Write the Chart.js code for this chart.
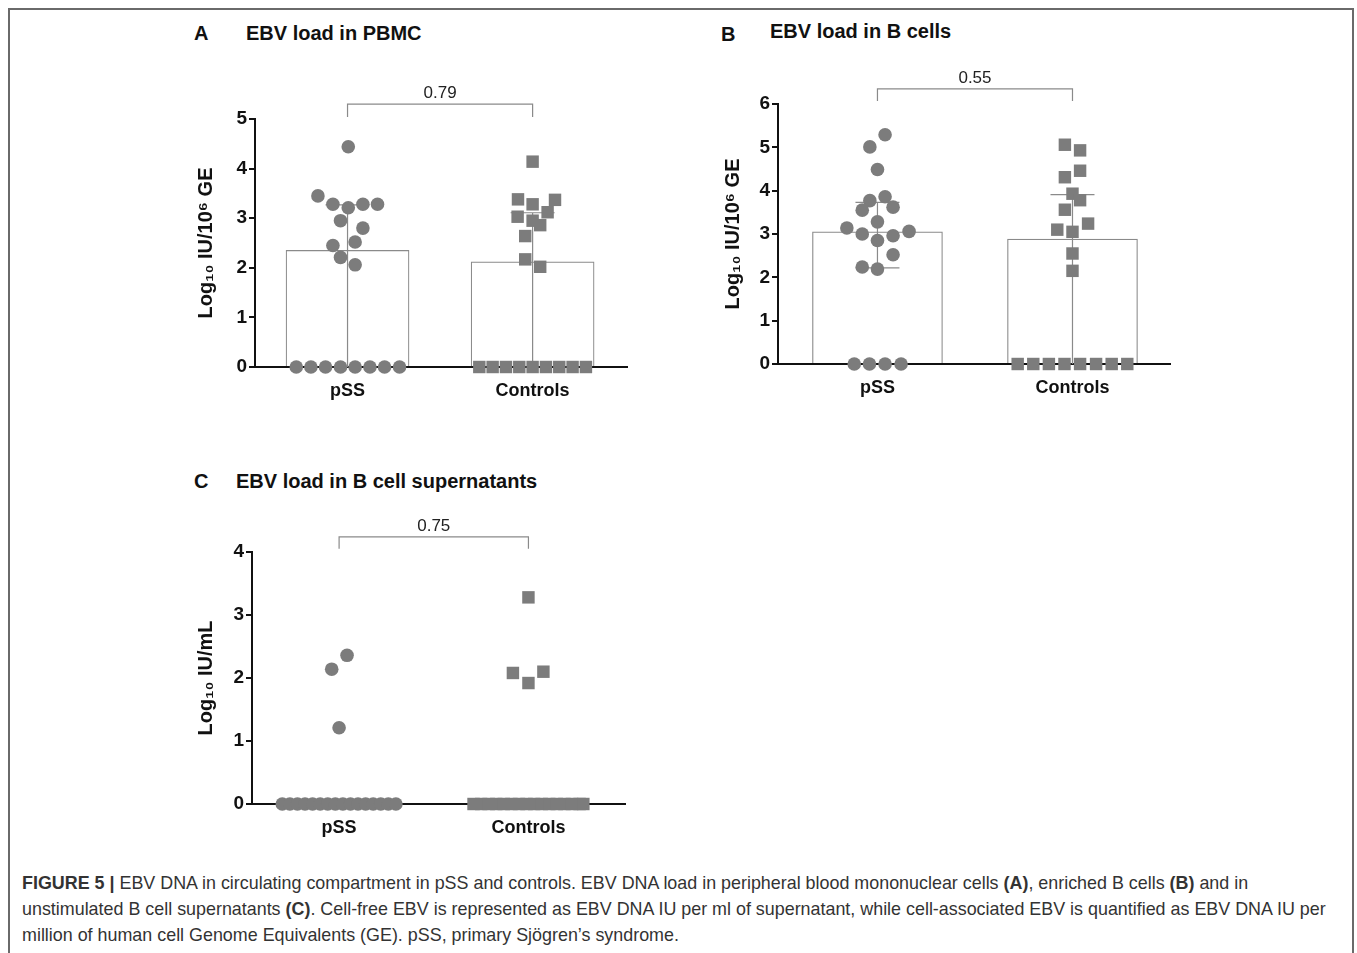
<!DOCTYPE html>
<html>
<head>
<meta charset="utf-8">
<script src="https://cdn.jsdelivr.net/npm/chart.js@4.4.1/dist/chart.umd.min.js"></script>
<style>
  body { margin: 0; background: #fff; font-family: "Liberation Sans", Arial, sans-serif; }
  .page { position: relative; width: 1357px; height: 953px; overflow: hidden; }
  .frame { position: absolute; left: 8px; top: 8px; width: 1346px; height: 960px;
           border: 2px solid #6a6a6a; border-bottom: none; box-sizing: border-box; }
  .panel { position: absolute; }
  .ptitle { position: absolute; font-weight: bold; font-size: 20px; color: #111; white-space: nowrap; }
  .caption { position: absolute; left: 22px; top: 870px; font-size: 17.9px; line-height: 26px; color: #333; white-space: nowrap; }
</style>
</head>
<body>
<div class="page">
  <div class="frame"></div>

  <div class="ptitle" style="left:194px;top:22px;">A</div>
  <div class="ptitle" style="left:246px;top:22px;">EBV load in PBMC</div>
  <div class="ptitle" style="left:721px;top:23px;">B</div>
  <div class="ptitle" style="left:770px;top:20px;">EBV load in B cells</div>
  <div class="ptitle" style="left:194px;top:470px;">C</div>
  <div class="ptitle" style="left:236px;top:470px;">EBV load in B cell supernatants</div>

  <canvas id="chartA" class="panel" style="left:190px;top:80px;" width="450" height="330"></canvas>
  <canvas id="chartB" class="panel" style="left:716px;top:70px;" width="480" height="340"></canvas>
  <canvas id="chartC" class="panel" style="left:190px;top:510px;" width="450" height="340"></canvas>

  <div class="caption"><b>FIGURE 5 |</b> EBV DNA in circulating compartment in pSS and controls. EBV DNA load in peripheral blood mononuclear cells <b>(A)</b>, enriched B cells <b>(B)</b> and in<br>unstimulated B cell supernatants <b>(C)</b>. Cell-free EBV is represented as EBV DNA IU per ml of supernatant, while cell-associated EBV is quantified as EBV DNA IU per<br>million of human cell Genome Equivalents (GE). pSS, primary Sjögren’s syndrome.</div>
</div>

<script>
const GROUPS = ['pSS', 'Controls'];
const POINT_COLOR = '#7c7c7c';

// ---- Panel A: PBMC (x = jitter offset from group centre, y = log10 value)
const A_pss_x = [0.004, -0.160, -0.079, 0.004, 0.083, 0.162, -0.038, 0.083, -0.079, 0.041, -0.038, 0.041,
                 -0.277, -0.198, -0.119, -0.038, 0.041, 0.121, 0.200, 0.281];
const A_pss_y = [4.44, 3.45, 3.28, 3.21, 3.28, 3.28, 2.95, 2.80, 2.45, 2.52, 2.21, 2.06,
                 0, 0, 0, 0, 0, 0, 0, 0];
const A_ctl_x = [0, -0.079, 0, 0.121, 0.081, -0.081, 0, 0.041, -0.040, -0.040, 0.041,
                 -0.288, -0.216, -0.144, -0.072, 0, 0.072, 0.144, 0.216, 0.288];
const A_ctl_y = [4.14, 3.38, 3.28, 3.37, 3.12, 3.03, 2.95, 2.86, 2.64, 2.17, 2.02,
                 0, 0, 0, 0, 0, 0, 0, 0, 0];
const A_mean = [2.35, 2.12];
const A_errHigh = [3.27, 3.11];
const A_errLow = [null, null];   // whisker runs below the axis
const A_bracket = [5.30, 5.04];
const A_p = '0.79';

// ---- Panel B: B cells
const B_pss_x = [0.039, -0.039, 0, -0.039, 0.039, -0.078, 0.080, 0, -0.157, -0.078, 0.080, 0.162, 0,
                 0.080, -0.078, 0, -0.119, -0.041, 0.039, 0.121];
const B_pss_y = [5.29, 5.01, 4.49, 3.77, 3.86, 3.55, 3.62, 3.28, 3.14, 3.00, 2.96, 3.06, 2.85,
                 2.52, 2.24, 2.19, 0, 0, 0, 0];
const B_ctl_x = [-0.039, 0.039, 0.039, -0.039, 0, 0.039, -0.039, 0.080, -0.078, 0, 0, 0,
                 -0.281, -0.201, -0.121, -0.041, 0.039, 0.121, 0.201, 0.281];
const B_ctl_y = [5.06, 4.93, 4.46, 4.31, 3.93, 3.78, 3.56, 3.24, 3.10, 3.05, 2.55, 2.15,
                 0, 0, 0, 0, 0, 0, 0, 0];
const B_mean = [3.05, 2.88];
const B_errHigh = [3.73, 3.91];
const B_errLow = [2.22, null];
const B_bracket = [6.35, 6.07];
const B_p = '0.55';

// ---- Panel C: supernatants
const C_pss_x = [-0.039, 0.042, 0,
                 -0.30, -0.26, -0.22, -0.18, -0.14, -0.10, -0.06, -0.02, 0.02, 0.06, 0.10, 0.14, 0.18, 0.22, 0.26, 0.30];
const C_pss_y = [2.14, 2.36, 1.21,
                 0, 0, 0, 0, 0, 0, 0, 0, 0, 0, 0, 0, 0, 0, 0, 0];
const C_ctl_x = [0, -0.082, 0.079, 0,
                 -0.29, -0.25, -0.21, -0.17, -0.13, -0.09, -0.05, -0.01, 0.03, 0.07, 0.11, 0.15, 0.19, 0.23, 0.27, 0.29];
const C_ctl_y = [3.28, 2.08, 2.10, 1.92,
                 0, 0, 0, 0, 0, 0, 0, 0, 0, 0, 0, 0, 0, 0, 0, 0];
const C_bracket = [4.24, 4.05];
const C_p = '0.75';

const toXY = (xs, ys, centre) => xs.map((x, i) => ({ x: centre + x, y: ys[i] }));

// error bars drawn right after the bar dataset, so points sit on top
const errorBars = {
  id: 'errorBars',
  afterDatasetDraw(chart, args) {
    const cfg = chart.options.plugins.errorBars;
    if (!cfg || !cfg.high || args.meta.type !== 'bar') return;
    const { ctx, scales: { x, y }, chartArea } = chart;
    ctx.save();
    ctx.strokeStyle = '#8a8a8a';
    ctx.lineWidth = 1.2;
    cfg.high.forEach((hi, i) => {
      const px = x.getPixelForValue(i);
      const top = y.getPixelForValue(hi);
      const lo = cfg.low[i];
      const bot = lo == null ? chartArea.bottom : y.getPixelForValue(lo);
      ctx.beginPath();
      ctx.moveTo(px, top); ctx.lineTo(px, bot);
      ctx.moveTo(px - cfg.cap, top); ctx.lineTo(px + cfg.cap, top);
      if (lo != null) { ctx.moveTo(px - cfg.cap, bot); ctx.lineTo(px + cfg.cap, bot); }
      ctx.stroke();
    });
    ctx.restore();
  }
};

const bracket = {
  id: 'bracket',
  afterDraw(chart) {
    const cfg = chart.options.plugins.bracket;
    const { ctx, scales: { x, y } } = chart;
    const x0 = x.getPixelForValue(0), x1 = x.getPixelForValue(1);
    const yt = y.getPixelForValue(cfg.y[0]), yb = y.getPixelForValue(cfg.y[1]);
    ctx.save();
    ctx.strokeStyle = '#8a8a8a';
    ctx.lineWidth = 1.2;
    ctx.beginPath();
    ctx.moveTo(x0, yb); ctx.lineTo(x0, yt); ctx.lineTo(x1, yt); ctx.lineTo(x1, yb);
    ctx.stroke();
    ctx.fillStyle = '#222';
    ctx.font = '17px "Liberation Sans", Arial, sans-serif';
    ctx.textAlign = 'center';
    ctx.textBaseline = 'bottom';
    ctx.fillText(cfg.label, (x0 + x1) / 2, yt - 2);
    ctx.restore();
  }
};

function makeChart(id, o) {
  const datasets = [];
  if (o.mean) {
    datasets.push({
      type: 'bar',
      data: o.mean.map((m, i) => ({ x: i, y: m })),
      backgroundColor: '#fff',
      borderColor: '#8a8a8a',
      borderWidth: 1.2,
      barThickness: o.barW,
      order: 2,
    });
  }
  datasets.push({
    type: 'scatter', data: toXY(o.pss[0], o.pss[1], 0),
    pointStyle: 'circle', pointRadius: 6.8, backgroundColor: POINT_COLOR, borderWidth: 0,
    clip: false, order: 1,
  });
  datasets.push({
    type: 'scatter', data: toXY(o.ctl[0], o.ctl[1], 1),
    pointStyle: 'rect', pointRadius: 8.8, backgroundColor: POINT_COLOR, borderWidth: 0,
    clip: false, order: 1,
  });

  return new Chart(document.getElementById(id), {
    data: { datasets },
    plugins: [errorBars, bracket],
    options: {
      responsive: false,
      animation: false,
      layout: { padding: { left: o.padL, top: o.padT, right: o.padR, bottom: 0 } },
      plugins: {
        legend: { display: false },
        tooltip: { enabled: false },
        errorBars: { high: o.errHigh, low: o.errLow, cap: 22 },
        bracket: { y: o.bracket, label: o.p },
      },
      scales: {
        x: {
          type: 'linear', min: o.xMin, max: o.xMax, offset: false,
          afterBuildTicks: (s) => { s.ticks = GROUPS.map((_, i) => ({ value: i })); },
          afterFit: (s) => { s.height = o.xH; },
          grid: { display: false },
          border: { color: '#111', width: 2 },
          ticks: {
            callback: (v) => GROUPS[v] ?? '',
            color: '#111', padding: 5,
            font: { family: '"Liberation Sans", Arial', size: 18, weight: 'bold' },
          },
        },
        y: {
          min: 0, max: o.yMax,
          afterFit: (s) => { s.width = o.yW; },
          grid: { drawOnChartArea: false, color: '#111', tickLength: 6, lineWidth: 2 },
          border: { color: '#111', width: 2 },
          ticks: {
            stepSize: 1, color: '#111', padding: 2,
            font: { family: '"Liberation Sans", Arial', size: 19, weight: 'bold' },
          },
          title: {
            display: true, text: o.yTitle, color: '#111', padding: 0,
            font: { family: '"Liberation Sans", Arial', size: 20, weight: 'bold' },
          },
        },
      },
    },
  });
}

makeChart('chartA', {
  pss: [A_pss_x, A_pss_y], ctl: [A_ctl_x, A_ctl_y],
  mean: A_mean, errHigh: A_errHigh, errLow: A_errLow, bracket: A_bracket, p: A_p,
  yMax: 5, xMin: -0.50, xMax: 1.51, barW: 123,
  padL: 4, padT: 39, padR: 13, yW: 61, xH: 43, yTitle: 'Log₁₀ IU/10⁶ GE',
});
makeChart('chartB', {
  pss: [B_pss_x, B_pss_y], ctl: [B_ctl_x, B_ctl_y],
  mean: B_mean, errHigh: B_errHigh, errLow: B_errLow, bracket: B_bracket, p: B_p,
  yMax: 6, xMin: -0.51, xMax: 1.50, barW: 130,
  padL: 5, padT: 34, padR: 26, yW: 57, xH: 46, yTitle: 'Log₁₀ IU/10⁶ GE',
});
makeChart('chartC', {
  pss: [C_pss_x, C_pss_y], ctl: [C_ctl_x, C_ctl_y],
  mean: null, errHigh: null, errLow: null, bracket: C_bracket, p: C_p,
  yMax: 4, xMin: -0.46, xMax: 1.51,
  padL: 4, padT: 42, padR: 15, yW: 58, xH: 46, yTitle: 'Log₁₀ IU/mL',
});
</script>
</body>
</html>
